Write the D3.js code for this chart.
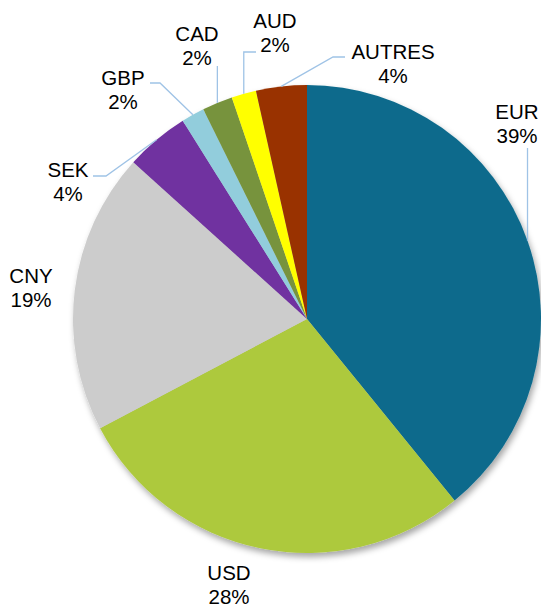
<!DOCTYPE html>
<html>
<head>
<meta charset="utf-8">
<script src="https://d3js.org/d3.v7.min.js"></script>
<style>
  body { margin: 0; background: #fff; }
  text { font-family: "Liberation Sans", Arial, sans-serif; font-size: 20.5px; fill: #000; }
</style>
</head>
<body>
<script>
// data (share of total, %)
var currencies = ["EUR", "USD", "CNY", "SEK", "GBP", "CAD", "AUD", "AUTRES"];
var shares     = [39.1, 28.1, 19.4, 4.4, 1.6, 2.1, 1.7, 3.5];
var colors     = ["#0e6b8c", "#adc93d", "#cccccc", "#7030a0", "#92cddc", "#77933c", "#ffff00", "#993300"];

// label layout: centre x, baseline of first line
var labelPos = [[517, 119], [229, 580], [31, 283], [68, 177], [123, 85], [197, 41], [275, 28], [393, 59]];
// leader line points from the label side, the last point is the slice edge (null x = same x as edge)
var leaders = [
  [[null, 148]],
  null,
  null,
  [[93, 176], [106, 176]],
  [[150, 83], [160, 83]],
  [[null, 66]],
  [[256, 52], [null, 52]],
  [[345, 57], [333, 57]]
];

const width = 541, height = 607;
const cx = 307, cy = 319, radius = 234;

const svg = d3.select("body").append("svg")
  .attr("width", width)
  .attr("height", height);

// soft shadow like the office chart
var defs = svg.append("defs");
var f = defs.append("filter").attr("id", "shadow")
  .attr("x", "-10%").attr("y", "-10%").attr("width", "120%").attr("height", "120%");
f.append("feDropShadow")
  .attr("dx", 2).attr("dy", 4).attr("stdDeviation", 3)
  .attr("flood-color", "#000").attr("flood-opacity", 0.35);

var total = d3.sum(shares);
var data = currencies.map(function(c, i) { return { name: c, value: shares[i], color: colors[i] }; });

var pie = d3.pie().sort(null).value(function(d) { return d.value; });
var arc = d3.arc().innerRadius(0).outerRadius(radius);

var g = svg.append("g").attr("transform", "translate(" + cx + "," + cy + ")");
var arcs = pie(data);

g.append("g").attr("filter", "url(#shadow)")
  .selectAll("path")
  .data(arcs)
  .enter()
  .append("path")
  .attr("d", arc)
  .attr("fill", function(d) { return d.data.color; });

// leader lines
arcs.forEach(function(d, i) {
  if (!leaders[i]) return;
  var mid = (d.startAngle + d.endAngle) / 2;
  var ex = cx + radius * Math.sin(mid), ey = cy - radius * Math.cos(mid);
  var pts = leaders[i].map(function(p) { return [p[0] === null ? ex : p[0], p[1]]; });
  pts.push([ex, ey]);
  svg.append("path")
    .attr("d", d3.line()(pts))
    .attr("fill", "none")
    .attr("stroke", "#9fc3e6")
    .attr("stroke-width", 1.3);
});

// labels
var labels = svg.selectAll("text.lbl")
  .data(arcs)
  .enter()
  .append("text")
  .attr("class", "lbl")
  .attr("text-anchor", "middle")
  .attr("x", function(d, i) { return labelPos[i][0]; })
  .attr("y", function(d, i) { return labelPos[i][1]; });

labels.append("tspan")
  .attr("x", function(d, i) { return labelPos[i][0]; })
  .text(function(d) { return d.data.name; });
labels.append("tspan")
  .attr("x", function(d, i) { return labelPos[i][0]; })
  .attr("dy", 24)
  .text(function(d) { return Math.round(d.data.value / total * 100) + "%"; });
</script>
</body>
</html>
